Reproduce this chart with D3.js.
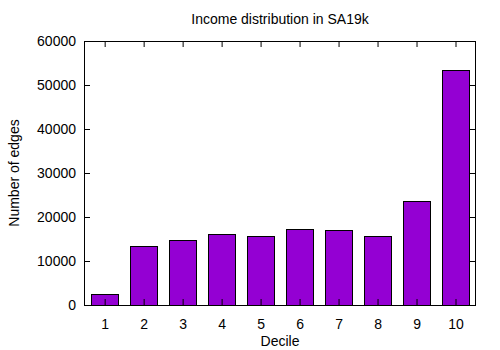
<!DOCTYPE html>
<html>
<head>
<meta charset="utf-8">
<script src="https://cdn.jsdelivr.net/npm/d3@7"></script>
<style>
  body { margin: 0; background: #fff; }
  text { font-family: "Liberation Sans", Arial, sans-serif; }
</style>
</head>
<body>
<div id="chart"></div>
<script>
// data
var deciles = [1, 2, 3, 4, 5, 6, 7, 8, 9, 10];
var edges = [2400, 13400, 14700, 16100, 15700, 17300, 17000, 15600, 23600, 53400];
var yTicks = [0, 10000, 20000, 30000, 40000, 50000, 60000];

var W = 500, H = 350;
var margin = { top: 41, right: 25, bottom: 45, left: 84 },
    width = W - margin.left - margin.right,
    height = H - margin.top - margin.bottom;

var svg = d3.select("#chart").append("svg")
    .attr("width", W)
    .attr("height", H);

var g = svg.append("g")
    .attr("transform", "translate(" + margin.left + "," + margin.top + ")");

var x = d3.scaleLinear().domain([0.47, 10.5]).range([0, width]);
var y = d3.scaleLinear().domain([0, 60000]).range([height, 0]);
var barW = x(1.7) - x(1);

// bars
g.selectAll("rect.bar")
    .data(edges)
    .join("rect")
    .attr("class", "bar")
    .attr("x", function (d, i) { return Math.round(x(deciles[i]) - barW / 2) + 0.5; })
    .attr("y", function (d) { return Math.round(y(d)) + 0.5; })
    .attr("width", Math.round(barW))
    .attr("height", function (d) { return Math.round(height - y(d)); })
    .attr("fill", "#9400d3")
    .attr("stroke", "#000")
    .attr("stroke-width", 1);

// axes, gnuplot style: ticks inside and mirrored
var tickLen = 6;
g.append("g")
    .call(d3.axisLeft(y).tickValues(yTicks).tickSize(-tickLen).tickPadding(tickLen + 2).tickFormat(d3.format("d")))
    .call(function (a) { a.select(".domain").remove(); });
g.append("g")
    .attr("transform", "translate(" + width + ",0)")
    .call(d3.axisRight(y).tickValues(yTicks).tickSize(-tickLen).tickFormat(""))
    .call(function (a) { a.select(".domain").remove(); });
g.append("g")
    .attr("transform", "translate(0," + height + ")")
    .call(d3.axisBottom(x).tickValues(deciles).tickSize(-tickLen).tickPadding(tickLen + 8).tickFormat(d3.format("d")))
    .call(function (a) { a.select(".domain").remove(); });
g.append("g")
    .call(d3.axisTop(x).tickValues(deciles).tickSize(-tickLen).tickFormat(""))
    .call(function (a) { a.select(".domain").remove(); });

g.selectAll(".tick text")
    .attr("font-family", "Liberation Sans, Arial, sans-serif")
    .attr("font-size", 14)
    .attr("fill", "#000");
g.selectAll(".tick line").attr("stroke", "#000");

// frame
g.append("rect")
    .attr("x", 0.5).attr("y", 0.5)
    .attr("width", Math.round(width)).attr("height", Math.round(height))
    .attr("fill", "none")
    .attr("stroke", "#000");

// title and axis labels
svg.append("text")
    .attr("x", 280).attr("y", 24)
    .attr("text-anchor", "middle")
    .attr("font-size", 14)
    .text("Income distribution in SA19k");
svg.append("text")
    .attr("x", 280).attr("y", 346)
    .attr("text-anchor", "middle")
    .attr("font-size", 14)
    .text("Decile");
svg.append("text")
    .attr("transform", "translate(19,173) rotate(-90)")
    .attr("text-anchor", "middle")
    .attr("font-size", 14)
    .text("Number of edges");
</script>
</body>
</html>
